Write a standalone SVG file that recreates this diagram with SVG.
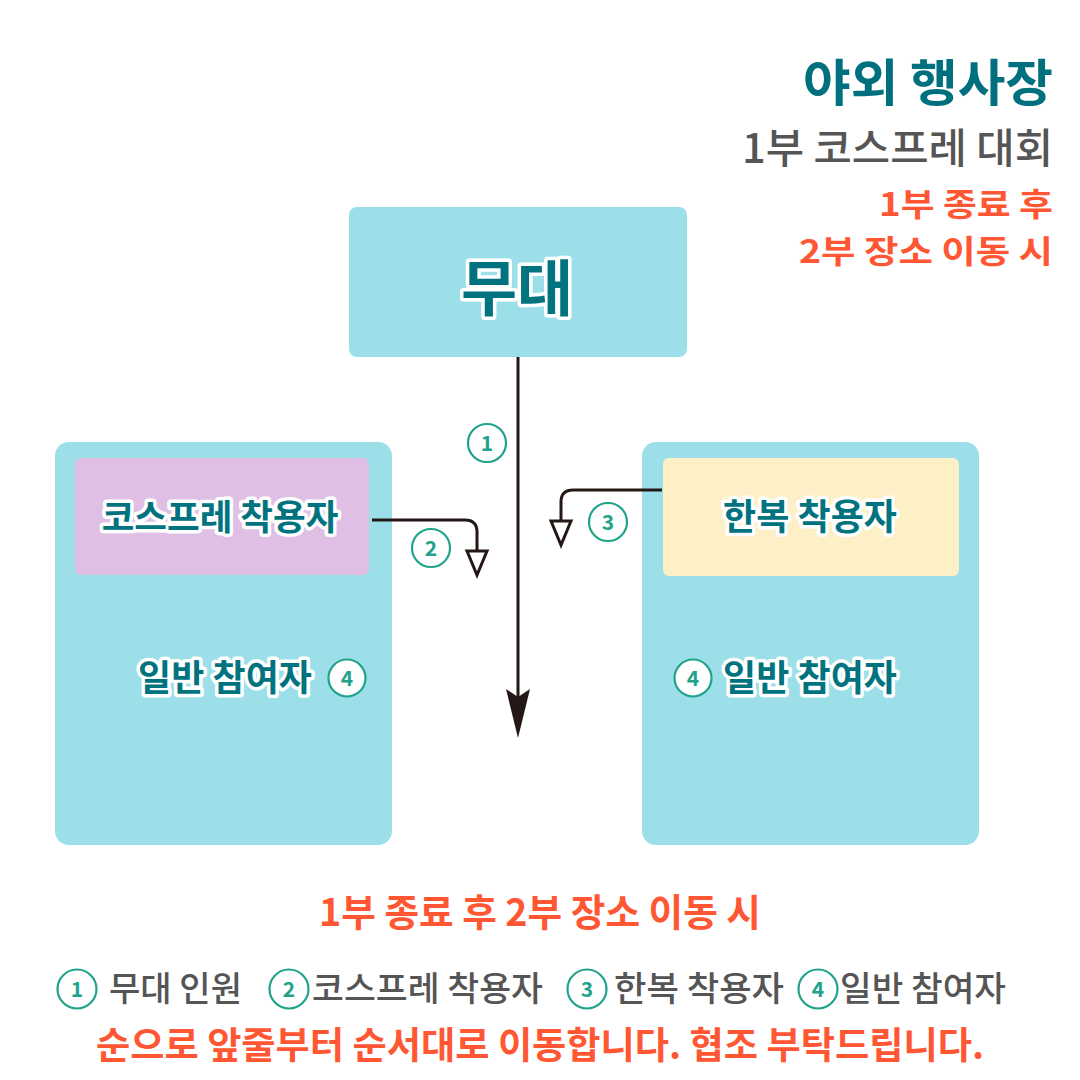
<svg xmlns="http://www.w3.org/2000/svg" width="1080" height="1080" viewBox="0 0 1080 1080">
<style>
text{font-family:"Noto Sans CJK KR","Noto Sans",sans-serif}
.zone{fill:#9DDFE9}
.lbl{fill:#00737F;font-weight:700;text-anchor:middle;stroke:#fff;stroke-width:7;stroke-linejoin:round;paint-order:stroke}
.num{fill:#fff;stroke:#1FA38B;stroke-width:2.2}
.numt{fill:#1FA38B;font-weight:700;font-size:21px;text-anchor:middle}
.conn{fill:none;stroke:#231815;stroke-width:3}
.tri{fill:#fff;stroke:#231815;stroke-width:3;stroke-linejoin:miter}
.org{fill:#FF5733;font-weight:700}
.gry{fill:#555555;font-weight:500}
</style>
<rect width="1080" height="1080" fill="#fff"/>

<g id="title">
<text x="1053" y="101" text-anchor="end" font-size="50" font-weight="700" fill="#00707E" textLength="250" lengthAdjust="spacingAndGlyphs">야외 행사장</text>
<text x="1053" y="163" text-anchor="end" font-size="41" class="gry" textLength="311" lengthAdjust="spacingAndGlyphs">1부 코스프레 대회</text>
<text x="1053" y="216" text-anchor="end" font-size="32" class="org" textLength="174" lengthAdjust="spacingAndGlyphs">1부 종료 후</text>
<text x="1053" y="263" text-anchor="end" font-size="32" class="org" textLength="254" lengthAdjust="spacingAndGlyphs">2부 장소 이동 시</text>
</g>

<g id="stage">
<rect x="349" y="207" width="338" height="150" rx="8" class="zone"/>
<text x="517" y="311" font-size="61" class="lbl" stroke-width="9">무대</text>
</g>

<g id="left-area">
<rect x="55" y="442" width="337" height="403" rx="14" class="zone"/>
<g id="cosplay">
<rect x="75" y="458" width="294" height="117" rx="6" fill="#DFBFE4"/>
<text x="220" y="530" font-size="35.5" class="lbl">코스프레 착용자</text>
</g>
<g id="general-left">
<text x="225" y="691" font-size="36" class="lbl">일반 참여자</text>
<circle cx="347" cy="678" r="18.5" class="num"/>
<text x="347" y="686" class="numt">4</text>
</g>
</g>

<g id="right-area">
<rect x="642" y="442" width="337" height="403" rx="14" class="zone"/>
<g id="hanbok">
<rect x="663" y="458" width="296" height="118" rx="6" fill="#FDEFC6"/>
<text x="810" y="530" font-size="36" class="lbl">한복 착용자</text>
</g>
<g id="general-right">
<circle cx="693" cy="678" r="18.5" class="num"/>
<text x="693" y="686" class="numt">4</text>
<text x="810" y="691" font-size="36" class="lbl">일반 참여자</text>
</g>
</g>

<g id="connectors">
<line x1="518" y1="357" x2="518" y2="700" stroke="#231815" stroke-width="3"/>
<path d="M506,689 L518,697 L530,689 L518,738 Z" fill="#231815"/>
<path d="M372,520 H465 Q477,520 477,532 V551" class="conn"/>
<path d="M467,551 H487 L477,575 Z" class="tri"/>
<path d="M662,490 H573 Q561,490 561,502 V521" class="conn"/>
<path d="M551,521 H571 L561,545 Z" class="tri"/>
<g id="badge1"><circle cx="487" cy="443" r="19" class="num"/><text x="487" y="451" class="numt">1</text></g>
<g id="badge2"><circle cx="431" cy="548" r="19" class="num"/><text x="431" y="556" class="numt">2</text></g>
<g id="badge3"><circle cx="608" cy="522" r="19" class="num"/><text x="608" y="530" class="numt">3</text></g>
</g>

<g id="footer">
<text x="540" y="926" text-anchor="middle" font-size="38" class="org" textLength="442" lengthAdjust="spacingAndGlyphs">1부 종료 후 2부 장소 이동 시</text>
<g id="legend">
<circle cx="77" cy="989" r="19.5" class="num"/><text x="77" y="997" class="numt">1</text>
<text x="109" y="1001" font-size="34.5" class="gry" textLength="133" lengthAdjust="spacingAndGlyphs">무대 인원</text>
<circle cx="289" cy="989" r="19.5" class="num"/><text x="289" y="997" class="numt">2</text>
<text x="312" y="1001" font-size="34.5" class="gry" textLength="231" lengthAdjust="spacingAndGlyphs">코스프레 착용자</text>
<circle cx="587" cy="989" r="19.5" class="num"/><text x="587" y="997" class="numt">3</text>
<text x="614" y="1001" font-size="34.5" class="gry" textLength="170" lengthAdjust="spacingAndGlyphs">한복 착용자</text>
<circle cx="818" cy="989" r="19.5" class="num"/><text x="818" y="997" class="numt">4</text>
<text x="840" y="1001" font-size="34.5" class="gry" textLength="166" lengthAdjust="spacingAndGlyphs">일반 참여자</text>
</g>
<text x="540" y="1059" text-anchor="middle" font-size="37" class="org" textLength="888" lengthAdjust="spacingAndGlyphs">순으로 앞줄부터 순서대로 이동합니다. 협조 부탁드립니다.</text>
</g>
</svg>
